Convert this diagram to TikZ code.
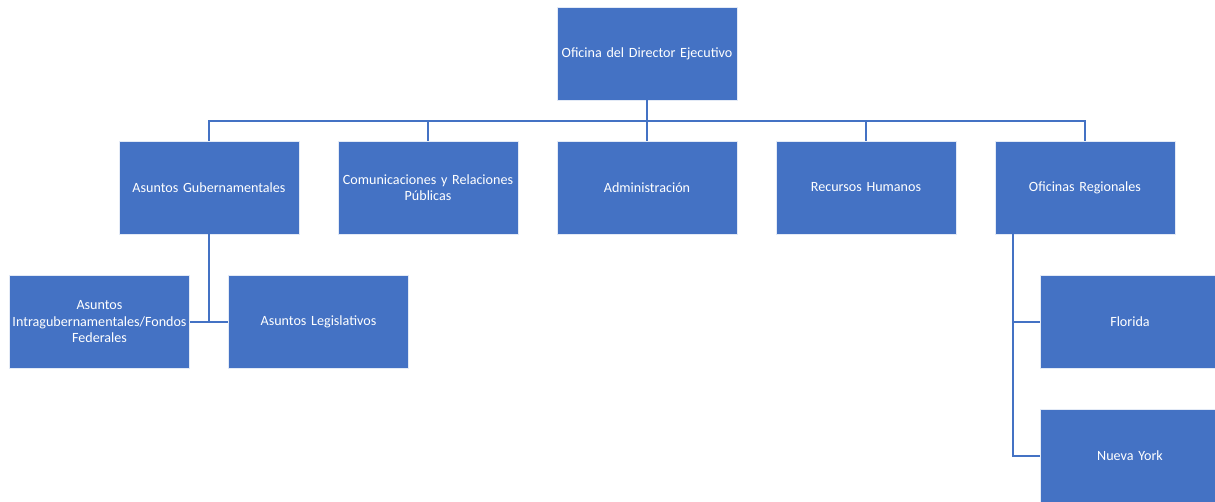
\documentclass[tikz,border=0pt]{standalone}
\usepackage{fontspec}
\setmainfont{Carlito}
\definecolor{office}{HTML}{4472C4}
\begin{document}
\begin{tikzpicture}[x=1pt,y=-1pt,
  box/.style={draw=white!85!office, line width=0.8pt, fill=office, text=white,
    minimum width=180pt, minimum height=93pt, align=center, inner sep=0pt,
    font=\fontsize{14.1}{16.5}\selectfont, text width=180pt},
  link/.style={draw=office, line width=2pt}]
\useasboundingbox (0,0) rectangle (1215,502);
\clip (0,0) rectangle (1215,502);
\node[box] (ode) at (647,53.5) {Oficina del Director Ejecutivo};
\node[box] (ag) at (209,187.5) {Asuntos Gubernamentales};
\node[box] (crp) at (428,187.5) {Comunicaciones y Relaciones\\Públicas};
\node[box] (adm) at (647,187.5) {Administración};
\node[box] (rh) at (866,187.5) {Recursos Humanos};
\node[box] (or) at (1085,187.5) {Oficinas Regionales};
\node[box] (aif) at (99.5,322) {Asuntos\\Intragubernamentales/Fondos\\Federales};
\node[box] (al) at (318.5,322) {Asuntos Legislativos};
\node[box] (fl) at (1130,322) {Florida};
\node[box] (ny) at (1130,456) {Nueva York};
\coordinate (bus) at (647,121);
\coordinate (ri) at (1013,234);
\draw[link] (ode.south) -- (bus);
\draw[link] (ag.north) |- (bus) -| (or.north);
\draw[link] (crp.north) -- (crp.north |- bus);
\draw[link] (adm.north) -- (adm.north |- bus);
\draw[link] (rh.north) -- (rh.north |- bus);
\draw[link] (ag.south) -- (ag.south |- al.west);
\draw[link] (aif.east) -- (al.west);
\draw[link] (ri) |- (ny.west);
\draw[link] (ri |- fl.west) -- (fl.west);
\end{tikzpicture}
\end{document}
